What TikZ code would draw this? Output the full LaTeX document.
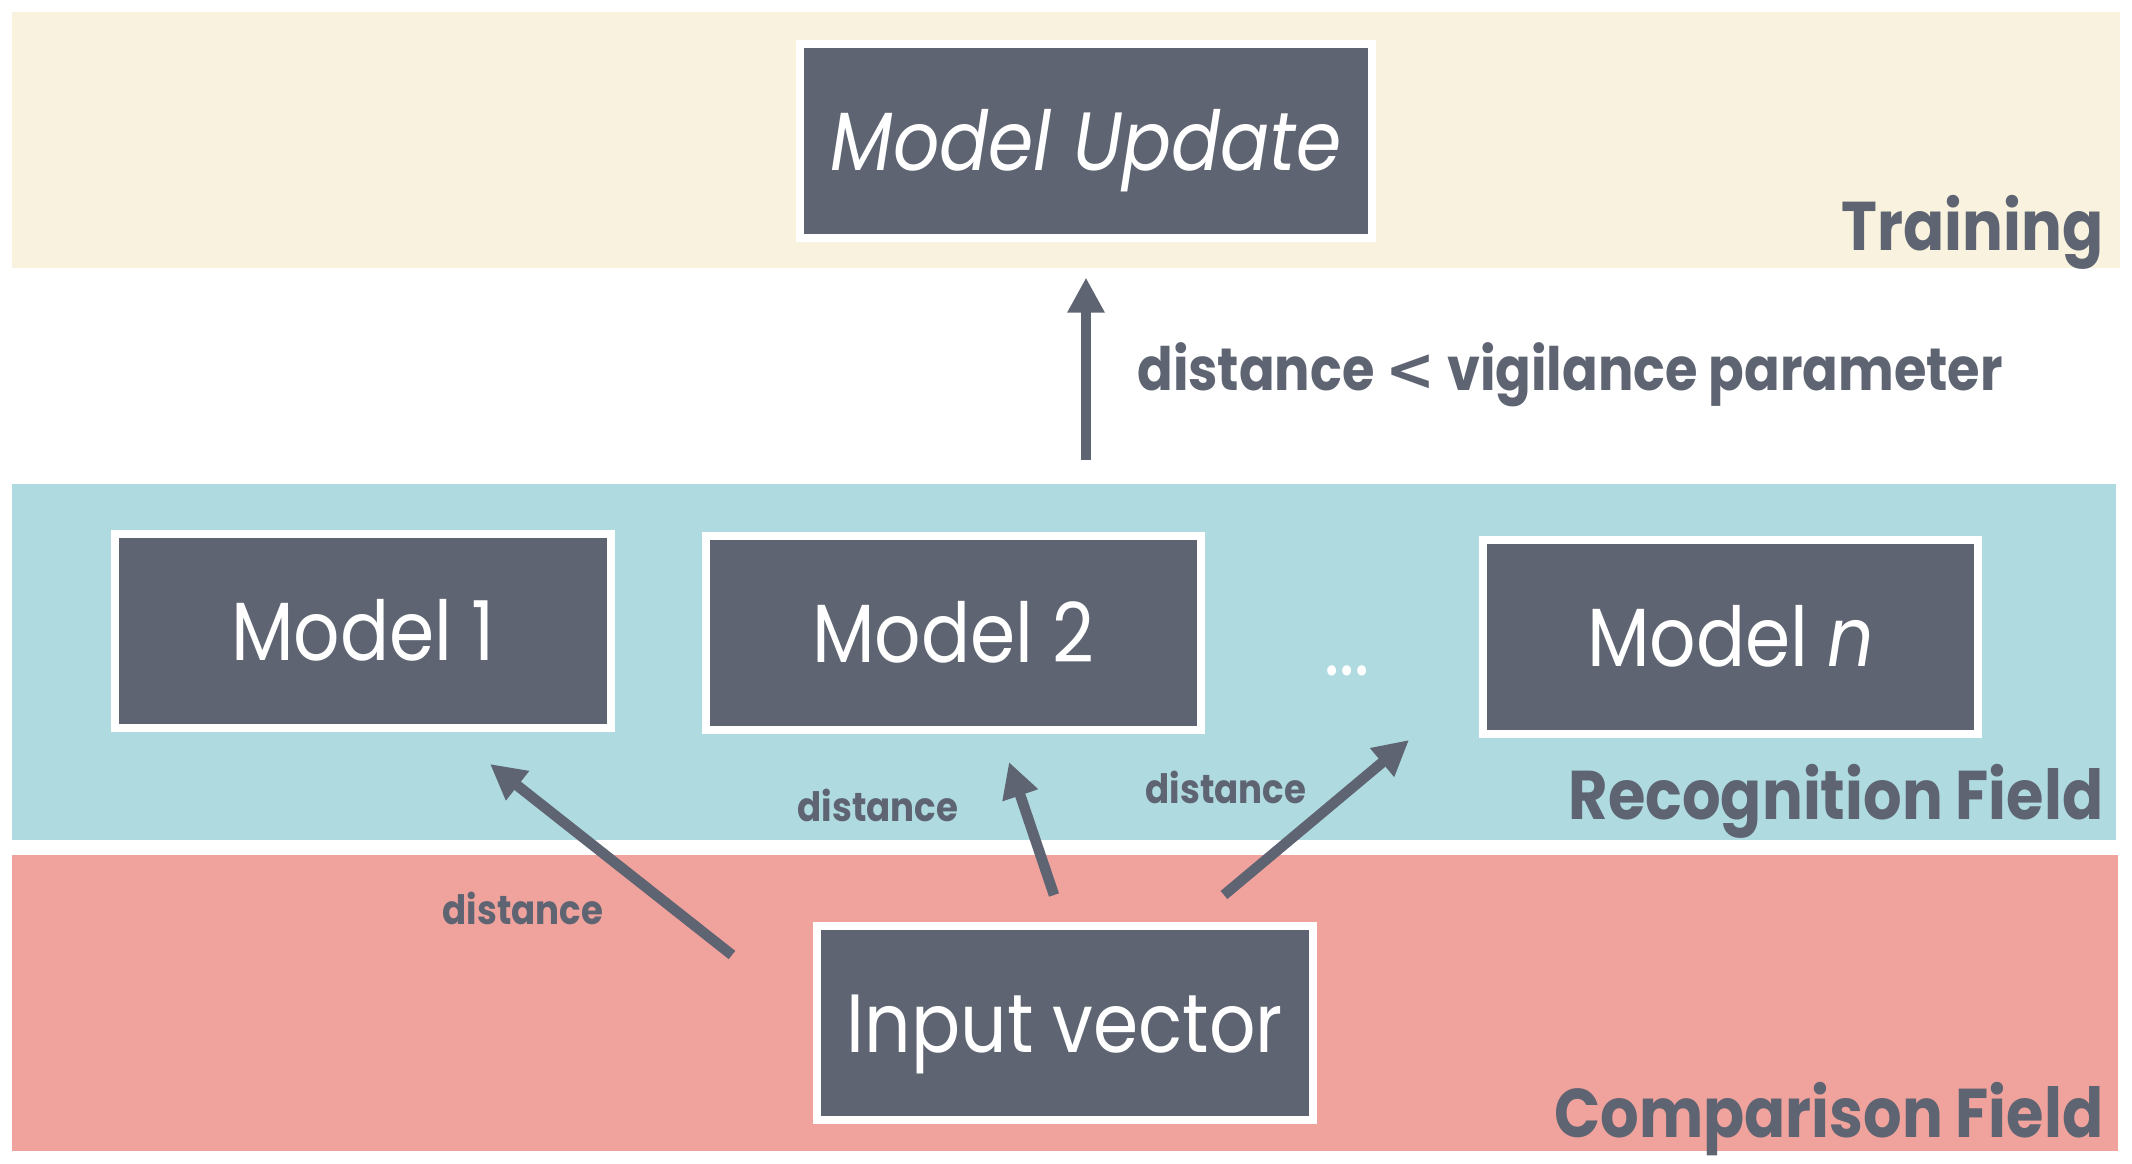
\documentclass[tikz,border=0pt]{standalone}
\usepackage{fontspec}
\setmainfont[FakeStretch=0.88]{Poppins}
\newfontfamily\symbfont{DejaVu Sans}
\usetikzlibrary{arrows.meta,positioning}
\definecolor{slate}{HTML}{5E6472}
\definecolor{cream}{HTML}{F8F2DE}
\definecolor{sky}{HTML}{AEDAE0}
\definecolor{salmon}{HTML}{F0A39D}
\tikzset{
    %Define standard arrow tip
    >={Triangle[length=10pt,width=10pt]},
    %Define style for the coloured fields
    field/.style={
           rectangle,
           inner sep=0pt,
           anchor=north west},
    %Define style for field names
    fieldname/.style={
           anchor=base east,
           inner sep=0pt,
           text=slate,
           font=\fontsize{19.6}{24}\selectfont\bfseries},
    %Define style for boxes
    model/.style={
           rectangle,
           fill=slate,
           draw=white,
           line width=0.08cm,
           minimum width=4.95cm,
           minimum height=1.94cm,
           text height=0.58cm,
           text depth=0pt,
           text=white,
           font=\fontsize{23.5}{28}\selectfont},
    % Define arrow style
    link/.style={
           ->,
           draw=slate,
           line width=3pt},
    % Define style for arrow labels
    linklbl/.style={
           text=slate,
           inner sep=0pt,
           font=\fontsize{11.5}{14}\selectfont\bfseries}
}

\begin{document}
\begin{tikzpicture}[x=0.01cm, y=-0.01cm]
  \useasboundingbox (0,0) rectangle (2132,1164);
  % fields
  \node[field, fill=cream, minimum width=21.07cm, minimum height=2.56cm] (training) at (11,11) {};
  \node[field, fill=sky, minimum width=21.03cm, minimum height=3.56cm] (recog) at (11,483) {};
  \node[field, fill=salmon, minimum width=21.05cm, minimum height=2.96cm] (compare) at (11,854) {};
  \node[fieldname] (trainname) at (2104,251) {Training};
  \node[fieldname] (recogname) at (2104,820) {Recognition Field};
  \node[fieldname] (comparename) at (2104,1137) {Comparison Field};
  % boxes
  \node[model, minimum width=5.72cm] (mupdate) at (1086,141) {\itshape Model Update};
  \node[model] (m1) at (363,631) {Model 1};
  \node[model, right=0.87cm of m1, yshift=-0.02cm] (m2) {Model 2};
  \node[model, right=2.74cm of m2, yshift=-0.04cm] (mn) {Model \textit{n}};
  \node[text=white, font=\fontsize{23.5}{28}\selectfont, anchor=base] (dots) at (1347,676) {...};
  \node[model] (input) at (1065,1023) {Input vector};
  % arrows
  \draw[link, shorten <=0.23cm, shorten >=0.09cm] (recog.north -| mupdate) -- (training.south -| mupdate)
    node[midway, right=0.46cm, yshift=0.01cm, inner sep=0pt, text=slate,
         font=\fontsize{17}{21}\selectfont\bfseries] (vigil) {distance {\symbfont\bfseries<} vigilance parameter};
  \coordinate (t1) at (732,955);
  \coordinate (h1) at (490,764);
  \coordinate (t2) at (1054,895);
  \coordinate (h2) at (1009,762);
  \coordinate (t3) at (1224,895);
  \coordinate (h3) at (1409,740);
  \draw[link] (t1) -- (h1);
  \draw[link] (t2) -- (h2);
  \draw[link] (t3) -- (h3);
  \node[linklbl] (dist1) at (523,908) {distance};
  \node[linklbl] (dist2) at (878,805) {distance};
  \node[linklbl] (dist3) at (1226,787) {distance};
\end{tikzpicture}
\end{document}
